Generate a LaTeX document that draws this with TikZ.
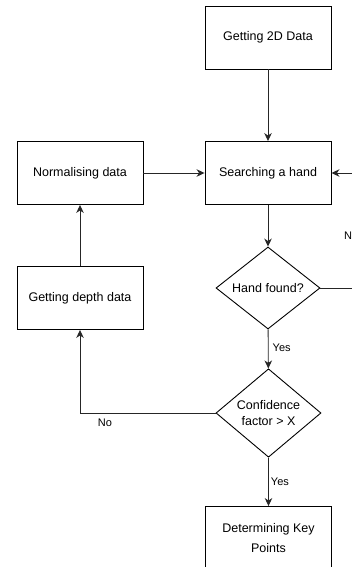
\documentclass[tikz,border=0pt]{standalone}
\usepackage{fontspec}
\setmainfont{Liberation Sans}
\usetikzlibrary{shapes.geometric,arrows.meta}
\tikzset{
  box/.style={draw, line width=0.9pt, minimum width=126pt, minimum height=63pt, inner sep=2pt, align=center, font=\fontsize{12.5}{20}\selectfont},
  decision/.style={draw, diamond, line width=0.9pt, minimum width=104pt, minimum height=82pt, inner sep=0pt, align=center, font=\fontsize{12.5}{16}\selectfont},
  conn/.style={line width=0.9pt, draw=black!85, -{Stealth[length=8pt,width=7.5pt,inset=2.5pt]}},
  lbl/.style={font=\fontsize{11}{13}\selectfont, inner sep=1pt}
}
\begin{document}
\begin{tikzpicture}[x=1pt,y=-1pt]
\useasboundingbox (0,0) rectangle (352,567);
\node[box] (get2d) at (268,37.5) {Getting 2D Data};
\node[box] (search) at (268,173) {Searching a hand};
\node[box] (norm) at (80,173) {Normalising data};
\node[box] (depth) at (80,298) {Getting depth data};
\node[decision] (found) at (268,288) {Hand found?};
\node[decision, minimum width=105pt] (conf) at (268.5,413) {Confidence\\factor > X};
\node[box] (keyp) at (268.5,538) {Determining Key\\Points};
\coordinate (rb) at (372,288);
\coordinate (rt) at (372,173);
\coordinate (lc) at (80,413);
\draw[conn] (get2d) -- (search);
\draw[conn] (norm) -- (search);
\draw[conn] (depth) -- (norm);
\draw[conn] (search) -- (found);
\draw[conn] (found.east) -- (rb) -- (rt) -- (search.east);
\node[lbl, anchor=west] (nolbl1) at (343,236) {No};
\draw[conn] (found) -- node[lbl, right=3pt, pos=0.48] (yes1) {Yes} (conf);
\draw[conn] (conf.west) -- (lc) -- (depth.south);
\node[lbl] (nolbl2) at (105,423) {No};
\draw[conn] (conf) -- node[lbl, right=1pt, pos=0.5] (yes2) {Yes} (keyp);
\end{tikzpicture}
\end{document}
